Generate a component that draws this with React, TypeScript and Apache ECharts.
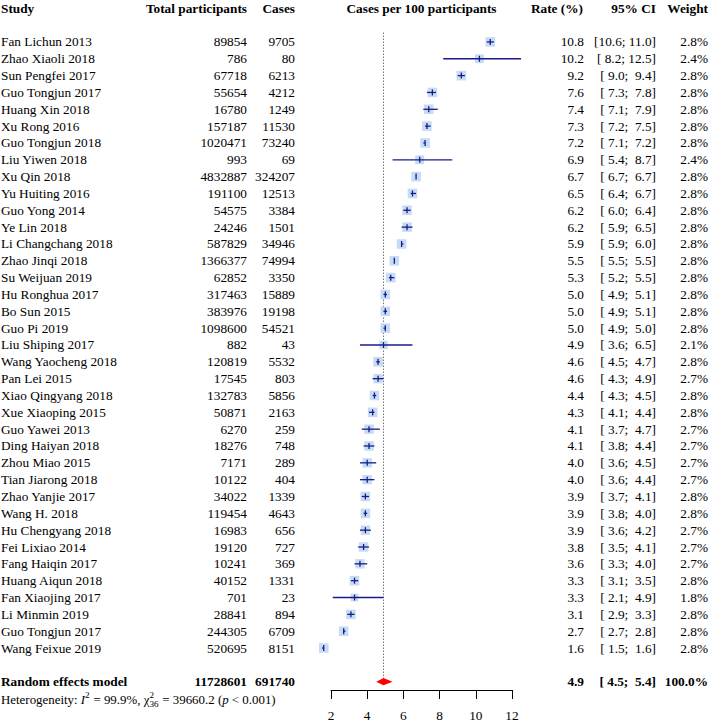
import React, { useEffect, useRef } from "react";
import * as echarts from "echarts";

// ---------- data ----------
const studies = [
  "Fan Lichun 2013", "Zhao Xiaoli 2018", "Sun Pengfei 2017", "Guo Tongjun 2017", "Huang Xin 2018",
  "Xu Rong 2016", "Guo Tongjun 2018", "Liu Yiwen 2018", "Xu Qin 2018", "Yu Huiting 2016",
  "Guo Yong 2014", "Ye Lin 2018", "Li Changchang 2018", "Zhao Jinqi 2018", "Su Weijuan 2019",
  "Hu Ronghua 2017", "Bo Sun 2015", "Guo Pi 2019", "Liu Shiping 2017", "Wang Yaocheng 2018",
  "Pan Lei 2015", "Xiao Qingyang 2018", "Xue Xiaoping 2015", "Guo Yawei 2013", "Ding Haiyan 2018",
  "Zhou Miao 2015", "Tian Jiarong 2018", "Zhao Yanjie 2017", "Wang H. 2018", "Hu Chengyang 2018",
  "Fei Lixiao 2014", "Fang Haiqin 2017", "Huang Aiqun 2018", "Fan Xiaojing 2017", "Li Minmin 2019",
  "Guo Tongjun 2017", "Wang Feixue 2019",
];
const totals = [
  89854, 786, 67718, 55654, 16780, 157187, 1020471, 993, 4832887, 191100,
  54575, 24246, 587829, 1366377, 62852, 317463, 383976, 1098600, 882, 120819,
  17545, 132783, 50871, 6270, 18276, 7171, 10122, 34022, 119454, 16983,
  19120, 10241, 40152, 701, 28841, 244305, 520695,
];
const cases = [
  9705, 80, 6213, 4212, 1249, 11530, 73240, 69, 324207, 12513,
  3384, 1501, 34946, 74994, 3350, 15889, 19198, 54521, 43, 5532,
  803, 5856, 2163, 259, 748, 289, 404, 1339, 4643, 656,
  727, 369, 1331, 23, 894, 6709, 8151,
];
const rates = [
  10.8, 10.2, 9.2, 7.6, 7.4, 7.3, 7.2, 6.9, 6.7, 6.5,
  6.2, 6.2, 5.9, 5.5, 5.3, 5.0, 5.0, 5.0, 4.9, 4.6,
  4.6, 4.4, 4.3, 4.1, 4.1, 4.0, 4.0, 3.9, 3.9, 3.9,
  3.8, 3.6, 3.3, 3.3, 3.1, 2.7, 1.6,
];
const lowers = [
  10.6, 8.2, 9.0, 7.3, 7.1, 7.2, 7.1, 5.4, 6.7, 6.4,
  6.0, 5.9, 5.9, 5.5, 5.2, 4.9, 4.9, 4.9, 3.6, 4.5,
  4.3, 4.3, 4.1, 3.7, 3.8, 3.6, 3.6, 3.7, 3.8, 3.6,
  3.5, 3.3, 3.1, 2.1, 2.9, 2.7, 1.5,
];
const uppers = [
  11.0, 12.5, 9.4, 7.8, 7.9, 7.5, 7.2, 8.7, 6.7, 6.7,
  6.4, 6.5, 6.0, 5.5, 5.5, 5.1, 5.1, 5.0, 6.5, 4.7,
  4.9, 4.5, 4.4, 4.7, 4.4, 4.5, 4.4, 4.1, 4.0, 4.2,
  4.1, 4.0, 3.5, 4.9, 3.3, 2.8, 1.6,
];
const weights = [
  2.8, 2.4, 2.8, 2.8, 2.8, 2.8, 2.8, 2.4, 2.8, 2.8,
  2.8, 2.8, 2.8, 2.8, 2.8, 2.8, 2.8, 2.8, 2.1, 2.8,
  2.7, 2.8, 2.8, 2.7, 2.7, 2.7, 2.7, 2.8, 2.8, 2.7,
  2.7, 2.7, 2.8, 1.8, 2.8, 2.8, 2.8,
];

const pooledLabel = "Random effects model";
const pooledTotal = 11728601;
const pooledCases = 691740;
const pooledRate = 4.9;
const pooledLower = 4.5;
const pooledUpper = 5.4;
const pooledWeight = 100.0;

const xTicks = [2, 4, 6, 8, 10, 12];
const headerStudy = "Study";
const headerTotal = "Total participants";
const headerCases = "Cases";
const headerPlot = "Cases per 100 participants";
const headerRate = "Rate (%)";
const headerCI = "95% CI";
const headerWeight = "Weight";

// ---------- layout ----------
const W = 711;
const H = 722;
const FIRST_Y = 42;
const ROW_H = 16.86;
const AXIS_Y = 691;
const PLOT_L = 331;
const PLOT_R = 512;
const COL_STUDY = 1;
const COL_TOTAL = 247;
const COL_CASES = 295;
const COL_RATE = 584;
const COL_CI = 656;
const COL_WEIGHT = 708;
const FONT = "Liberation Serif";
const FS = 13.3;
const HET_FS = 12.9;
const SQ = 9.6;
const SQ_COLOR = "#c6dcf4";
const CI_COLOR = "#1a1a8a";

const pooledRow = studies.length + 1;
const hetRow = studies.length + 2;
const rowY = (r: number) => FIRST_Y + r * ROW_H;

const nb = "\u00A0";
const pad4 = (v: number) => {
  let s = v.toFixed(1);
  while (s.length < 4) s = nb + s;
  return s;
};
const fmtCI = (lo: number, hi: number) => `[${pad4(lo)};${nb}${pad4(hi)}]`;

function txt(text: string, x: number, y: number, align: string, bold = false) {
  return {
    type: "text",
    x,
    y,
    style: {
      text,
      fill: "#000",
      fontFamily: FONT,
      fontSize: FS,
      fontWeight: bold ? "bold" : "normal",
      align,
      verticalAlign: "middle",
    },
  };
}

function gtxt(text: string, x: number, y: number, align: string, bold = false) {
  return {
    type: "text",
    x,
    y,
    style: {
      text,
      fill: "#000",
      font: `${bold ? "bold" : "normal"} ${FS}px ${FONT}`,
      textAlign: align,
      textVerticalAlign: "middle",
    },
  };
}

function measure(text: string, font: string) {
  const c = document.createElement("canvas").getContext("2d");
  if (!c) return text.length * 6;
  c.font = font;
  return c.measureText(text).width;
}

function heterogeneityGraphic() {
  const y = rowY(hetRow);
  const base = (style: string) => `${style} ${HET_FS}px ${FONT}`;
  const small = `normal 9.2px ${FONT}`;
  const els: any[] = [];
  let x = COL_STUDY;
  const put = (text: string, font: string, dy = 0) => {
    els.push({
      type: "text",
      x,
      y: y + dy,
      style: { text, fill: "#000", font, textAlign: "left", textVerticalAlign: "middle" },
    });
    return measure(text, font);
  };
  x += put("Heterogeneity: ", base("normal"));
  x += put("I", base("italic"));
  x += put("2", small, -5) + 0.5;
  x += put(" = 99.9%, ", base("normal"));
  x += put("\u03C7", base("normal"));
  const w1 = put("2", small, -5);
  const w2 = put("36", small, 4);
  x += Math.max(w1, w2) + 0.5;
  x += put(" = 39660.2 (", base("normal"));
  x += put("p", base("italic"));
  x += put(" < 0.001)", base("normal"));
  return els;
}

export default function App() {
  const ref = useRef<HTMLDivElement>(null);
  useEffect(() => {
    if (!ref.current) return;
    const chart = echarts.init(ref.current, undefined, { renderer: "svg" });
    const yMin = (0 - FIRST_Y) / ROW_H;
    const yMax = (AXIS_Y - FIRST_Y) / ROW_H;
    const rowData = rates.map((r, i) => [r, i, lowers[i], uppers[i], weights[i]]);

    const option: any = {
      animation: false,
      backgroundColor: "#fff",
      grid: { left: PLOT_L, right: W - PLOT_R, top: 0, bottom: H - AXIS_Y, containLabel: false },
      xAxis: {
        type: "value",
        min: xTicks[0],
        max: xTicks[xTicks.length - 1],
        interval: xTicks[1] - xTicks[0],
        axisLine: { show: true, onZero: false, lineStyle: { color: "#000", width: 1 } },
        axisTick: { show: true, length: 9, inside: false, lineStyle: { color: "#000", width: 1 } },
        axisLabel: { color: "#000", fontFamily: FONT, fontSize: FS, margin: 19 },
        splitLine: { show: false },
      },
      yAxis: {
        type: "value",
        inverse: true,
        min: yMin,
        max: yMax,
        show: false,
        splitLine: { show: false },
      },
      series: [
        {
          type: "line",
          data: [[pooledRate, -0.55], [pooledRate, pooledRow - 0.2]],
          showSymbol: false,
          symbol: "none",
          silent: true,
          lineStyle: { color: "#333", width: 1, type: [1, 2] },
          z: 1,
        },
        {
          type: "custom",
          data: rowData,
          clip: false,
          z: 2,
          renderItem: (params: any, api: any) => {
            const i = params.dataIndex;
            const row = api.value(1);
            const p = api.coord([api.value(0), row]);
            const xl = api.coord([api.value(2), row])[0];
            const xh = api.coord([api.value(3), row])[0];
            const s = SQ * Math.sqrt(api.value(4) / 2.8);
            const cx = p[0];
            const cy = p[1];
            return {
              type: "group",
              children: [
                { type: "rect", shape: { x: cx - s / 2, y: cy - s / 2, width: s, height: s }, style: { fill: SQ_COLOR } },
                { type: "line", shape: { x1: xl, y1: cy, x2: xh, y2: cy }, style: { stroke: CI_COLOR, lineWidth: 1.3 } },
                { type: "line", shape: { x1: cx, y1: cy - 3, x2: cx, y2: cy + 3 }, style: { stroke: CI_COLOR, lineWidth: 1.3 } },
                txt(studies[i], COL_STUDY, cy, "left"),
                txt(String(totals[i]), COL_TOTAL, cy, "right"),
                txt(String(cases[i]), COL_CASES, cy, "right"),
                txt(rates[i].toFixed(1), COL_RATE, cy, "right"),
                txt(fmtCI(lowers[i], uppers[i]), COL_CI, cy, "right"),
                txt(weights[i].toFixed(1) + "%", COL_WEIGHT, cy, "right"),
              ],
            };
          },
        },
        {
          type: "custom",
          data: [[pooledRate, pooledRow, pooledLower, pooledUpper]],
          clip: false,
          z: 3,
          renderItem: (params: any, api: any) => {
            const row = api.value(1);
            const p = api.coord([api.value(0), row]);
            const xl = api.coord([api.value(2), row])[0];
            const xh = api.coord([api.value(3), row])[0];
            const cy = p[1];
            const h = 3.6;
            return {
              type: "group",
              children: [
                {
                  type: "polygon",
                  shape: { points: [[xl, cy], [p[0], cy - h], [xh, cy], [p[0], cy + h]] },
                  style: { fill: "#ff0000" },
                },
                txt(pooledLabel, COL_STUDY, cy, "left", true),
                txt(String(pooledTotal), COL_TOTAL, cy, "right", true),
                txt(String(pooledCases), COL_CASES, cy, "right", true),
                txt(pooledRate.toFixed(1), COL_RATE, cy, "right", true),
                txt(fmtCI(pooledLower, pooledUpper), COL_CI, cy, "right", true),
                txt(pooledWeight.toFixed(1) + "%", COL_WEIGHT, cy, "right", true),
              ],
            };
          },
        },
      ],
      graphic: [
        gtxt(headerStudy, COL_STUDY, rowY(-2), "left", true),
        gtxt(headerTotal, COL_TOTAL, rowY(-2), "right", true),
        gtxt(headerCases, COL_CASES, rowY(-2), "right", true),
        gtxt(headerPlot, (PLOT_L + PLOT_R) / 2, rowY(-2), "center", true),
        gtxt(headerRate, COL_RATE - 1, rowY(-2), "right", true),
        gtxt(headerCI, COL_CI, rowY(-2), "right", true),
        gtxt(headerWeight, COL_WEIGHT, rowY(-2), "right", true),
        ...heterogeneityGraphic(),
      ],
    };
    chart.setOption(option);
    return () => chart.dispose();
  }, []);
  return (
    <div
      ref={ref}
      style={{ position: "absolute", left: 0, top: 0, width: W, height: H, background: "#fff" }}
    />
  );
}
